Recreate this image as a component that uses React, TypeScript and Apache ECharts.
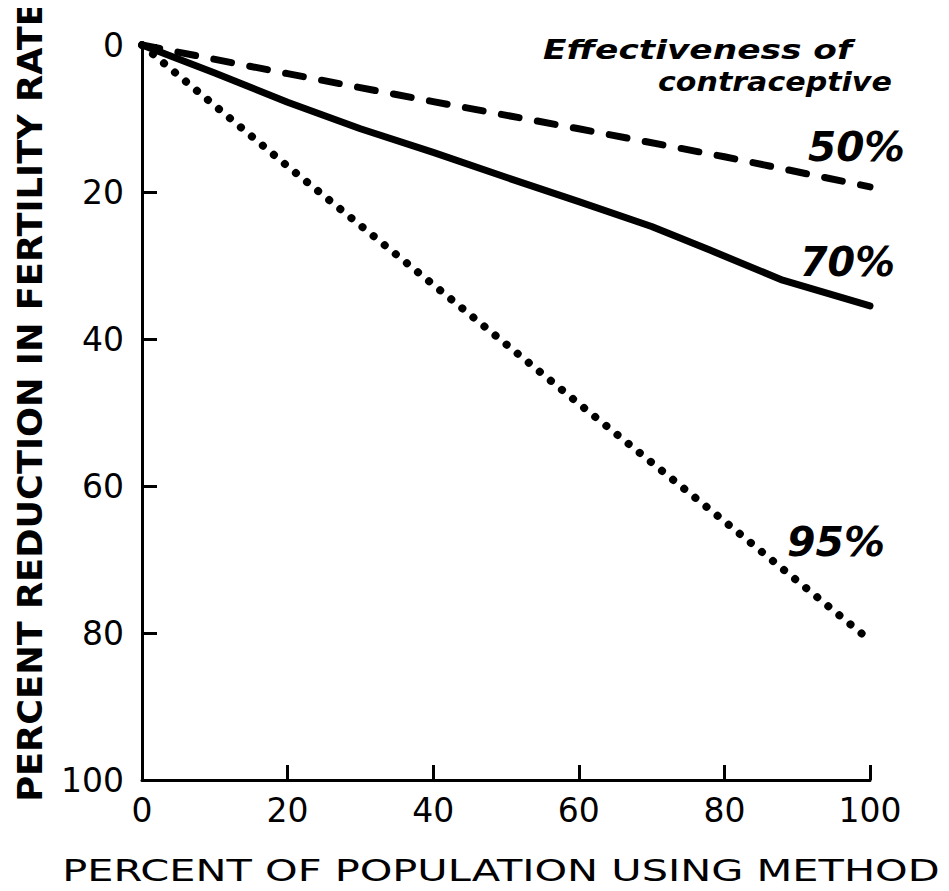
import React, { useEffect, useRef } from "react";
import * as echarts from "echarts";

const xTicks = [0, 20, 40, 60, 80, 100];
const yTicks = [0, 20, 40, 60, 80, 100];

const eff50: [number, number][] = [[0, 0], [20, 3.9], [40, 7.7], [60, 11.4], [80, 15.2], [100, 19.3]];
const eff70: [number, number][] = [[0, 0], [10, 3.8], [20, 7.8], [30, 11.4], [40, 14.6], [50, 18.0], [60, 21.3], [70, 24.7], [78, 27.9], [88, 32.0], [100, 35.5]];
const eff95: [number, number][] = [[0, 0], [20, 16.5], [40, 32.6], [60, 48.8], [80, 64.8], [100, 81.0]];

const xTitle = "PERCENT OF POPULATION USING METHOD";
const yTitle = "PERCENT REDUCTION IN FERTILITY RATE";
const noteLine1 = "Effectiveness of";
const noteLine2 = "contraceptive";
const seriesLabels = ["50%", "70%", "95%"];

const FONT = '"DejaVu Sans", sans-serif';

function measure(text: string, font: string): number {
  const c = document.createElement("canvas");
  const ctx = c.getContext("2d");
  if (!ctx) return text.length * 20;
  ctx.font = font;
  return ctx.measureText(text).width;
}

function fitText(
  text: string,
  x: number,
  y: number,
  width: number,
  size: number,
  weight: string,
  italic: boolean,
  align: string,
  rotation = 0
) {
  const font = `${italic ? "italic " : ""}${weight} ${size}px "DejaVu Sans"`;
  const w = measure(text, font);
  const s = w > 0 ? width / w : 1;
  return {
    type: "text",
    x,
    y,
    rotation,
    scaleX: s,
    scaleY: 1,
    silent: true,
    style: {
      text,
      fill: "#000",
      fontSize: size,
      fontFamily: FONT,
      fontWeight: weight,
      fontStyle: italic ? "italic" : "normal",
      textAlign: align,
      textVerticalAlign: "middle",
      align,
      verticalAlign: "middle",
    },
  };
}

export default function App() {
  const ref = useRef<HTMLDivElement>(null);

  useEffect(() => {
    if (!ref.current) return;
    const chart = echarts.init(ref.current, undefined, { renderer: "svg" });
    const lineBase = { type: "line", symbol: "none", silent: true, smooth: false };
    chart.setOption({
      animation: false,
      backgroundColor: "#fff",
      grid: { left: 142, right: 79, top: 45, bottom: 111, containLabel: false },
      xAxis: {
        type: "value",
        position: "bottom",
        min: xTicks[0],
        max: xTicks[xTicks.length - 1],
        interval: 20,
        axisLine: { show: true, onZero: false, lineStyle: { color: "#000", width: 3 } },
        axisTick: { show: true, inside: true, length: 15, lineStyle: { color: "#000", width: 3 } },
        axisLabel: { color: "#000", fontSize: 33, fontFamily: FONT, margin: 14 },
        splitLine: { show: false },
      },
      yAxis: {
        type: "value",
        position: "left",
        inverse: true,
        min: yTicks[0],
        max: yTicks[yTicks.length - 1],
        interval: 20,
        axisLine: { show: true, onZero: false, lineStyle: { color: "#000", width: 3 } },
        axisTick: { show: true, inside: true, length: 15, lineStyle: { color: "#000", width: 3 } },
        axisLabel: { color: "#000", fontSize: 33, fontFamily: FONT, margin: 18 },
        splitLine: { show: false },
      },
      series: [
        {
          ...lineBase,
          name: "50%",
          data: eff50,
          lineStyle: { color: "#000", width: 7, type: [18, 18.6], cap: "round", join: "round" },
        },
        {
          ...lineBase,
          name: "70%",
          data: eff70,
          lineStyle: { color: "#000", width: 7, type: "solid", cap: "round", join: "round" },
        },
        {
          ...lineBase,
          name: "95%",
          data: eff95,
          lineStyle: { color: "#000", width: 8, type: [0.1, 14.2], cap: "round", join: "round" },
        },
      ],
      graphic: [
        fitText(yTitle, 30, 402, 800, 34, "bold", false, "center", Math.PI / 2),
        fitText(xTitle, 501, 871, 878, 30, "normal", false, "center"),
        fitText(noteLine1, 543, 50, 309, 26, "bold", true, "left"),
        fitText(noteLine2, 658, 82, 234, 26, "bold", true, "left"),
        fitText(seriesLabels[0], 808, 147, 97, 41, "bold", true, "left"),
        fitText(seriesLabels[1], 800, 262, 95, 41, "bold", true, "left"),
        fitText(seriesLabels[2], 787, 542, 98, 41, "bold", true, "left"),
      ],
    });
    return () => chart.dispose();
  }, []);

  return <div ref={ref} style={{ width: 949, height: 891, margin: -8 }} />;
}
